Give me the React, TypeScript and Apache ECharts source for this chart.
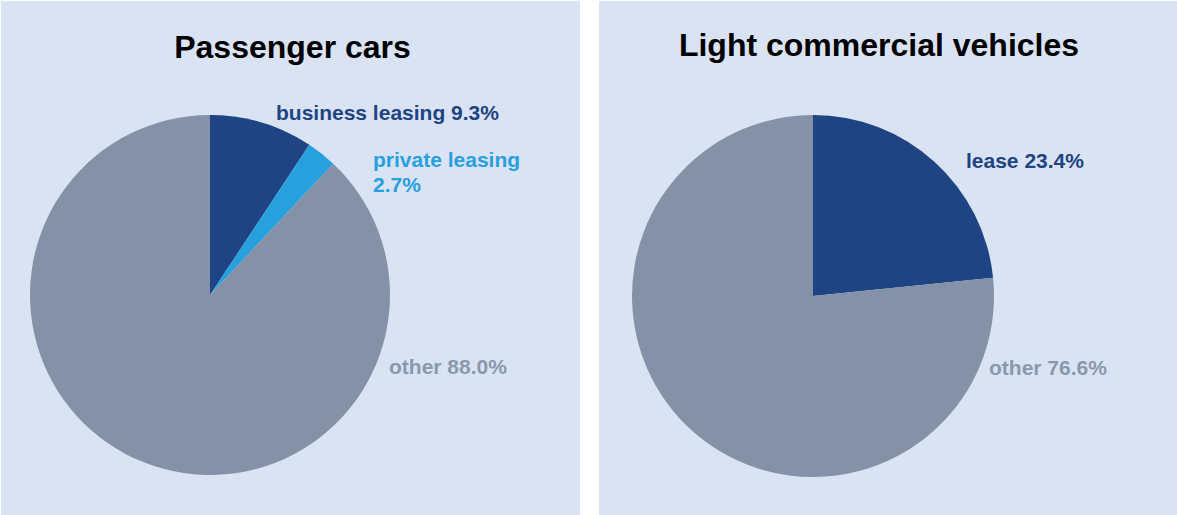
import React, { useEffect, useRef } from "react";
import * as echarts from "echarts";

const pcCategories = ["business leasing", "private leasing", "other"];
const pcValues = [9.3, 2.7, 88.0];
const lcvCategories = ["lease", "other"];
const lcvValues = [23.4, 76.6];
const titles = ["Passenger cars", "Light commercial vehicles"];

const DARK = "#1e4483";
const LIGHT = "#27a0de";
const GREY = "#8591a6";
const GREY_TEXT = "#8a98ad";
const BG = "#dae3f3";

const pcColors = [DARK, LIGHT, GREY];
const pcTextColors = [DARK, LIGHT, GREY_TEXT];
const lcvColors = [DARK, GREY];
const lcvTextColors = [DARK, GREY_TEXT];

const pcLabelPos = [
  { x: 276, y: 112 },
  { x: 373, y: 172 },
  { x: 389, y: 366 },
];
const lcvLabelPos = [
  { x: 966, y: 160 },
  { x: 989, y: 367 },
];

export default function App() {
  const ref = useRef<HTMLDivElement>(null);
  useEffect(() => {
    document.body.style.margin = "0";
    const chart = echarts.init(ref.current!, null, { renderer: "svg" });
    const font = "'Liberation Sans', Arial, sans-serif";
    const mkData = (cats: string[], vals: number[], colors: string[], tcolors: string[], multiLine: number[]) =>
      cats.map((c, i) => ({
        name: c,
        value: vals[i],
        itemStyle: { color: colors[i] },
        label: {
          color: tcolors[i],
          formatter: multiLine.includes(i) ? `${c}\n${vals[i].toFixed(1)}%` : `${c} ${vals[i].toFixed(1)}%`,
        },
      }));
    const labelStyle = {
      show: true,
      position: "outside",
      fontFamily: font,
      fontSize: 21,
      fontWeight: "bold",
      lineHeight: 25,
      overflow: "none",
      width: 400,
    };
    chart.setOption({
      animation: false,
      backgroundColor: "#ffffff",
      graphic: [
        { type: "rect", shape: { x: 1, y: 1, width: 579, height: 514 }, style: { fill: BG }, z: -10, silent: true },
        { type: "rect", shape: { x: 599, y: 1, width: 578, height: 514 }, style: { fill: BG }, z: -10, silent: true },
      ],
      title: [
        {
          text: titles[0],
          left: 287.5,
          top: 42,
          textAlign: "center",
          textVerticalAlign: "middle",
          textStyle: { fontFamily: font, fontSize: 32, fontWeight: "bold", color: "#000" },
        },
        {
          text: titles[1],
          left: 874,
          top: 40,
          textAlign: "center",
          textVerticalAlign: "middle",
          textStyle: { fontFamily: font, fontSize: 32, fontWeight: "bold", color: "#000" },
        },
      ],
      series: [
        {
          type: "pie",
          center: [210, 295],
          radius: 180,
          startAngle: 90,
          clockwise: true,
          itemStyle: { borderWidth: 0 },
          label: labelStyle,
          labelLine: { show: false },
          emphasis: { disabled: true },
          labelLayout: (p: any) => ({
            x: pcLabelPos[p.dataIndex].x,
            y: pcLabelPos[p.dataIndex].y,
            align: "left",
            verticalAlign: "middle",
            hideOverlap: false,
          }),
          data: mkData(pcCategories, pcValues, pcColors, pcTextColors, [1]),
        },
        {
          type: "pie",
          center: [813, 296],
          radius: 181,
          startAngle: 90,
          clockwise: true,
          itemStyle: { borderWidth: 0 },
          label: labelStyle,
          labelLine: { show: false },
          emphasis: { disabled: true },
          labelLayout: (p: any) => ({
            x: lcvLabelPos[p.dataIndex].x,
            y: lcvLabelPos[p.dataIndex].y,
            align: "left",
            verticalAlign: "middle",
            hideOverlap: false,
          }),
          data: mkData(lcvCategories, lcvValues, lcvColors, lcvTextColors, []),
        },
      ],
    });
    return () => chart.dispose();
  }, []);
  return <div ref={ref} style={{ width: 1177, height: 515 }} />;
}
